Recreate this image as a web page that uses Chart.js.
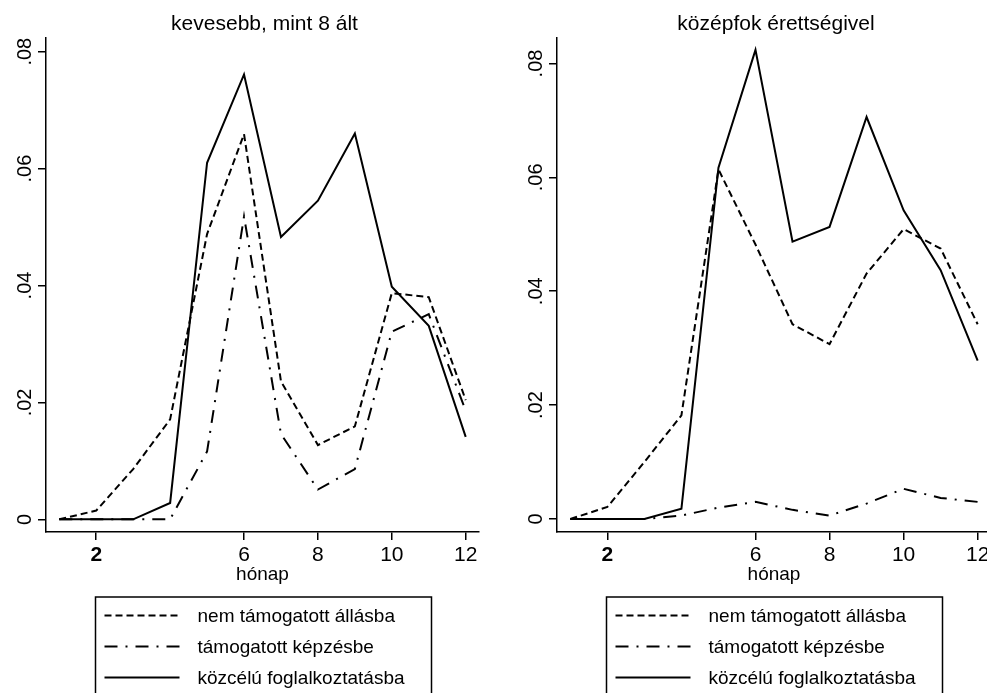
<!DOCTYPE html>
<html>
<head>
<meta charset="utf-8">
<script src="https://cdn.jsdelivr.net/npm/chart.js@4.4.0/dist/chart.umd.min.js"></script>
<style>
html, body { margin: 0; padding: 0; background: #fff; overflow: hidden; width: 987px; height: 693px; }
#left { position: absolute; left: 0; top: 0; }
#right { position: absolute; left: 490px; top: 0; }
</style>
</head>
<body>
<canvas id="left" width="490" height="693"></canvas>
<canvas id="right" width="510" height="693"></canvas>
<script>
const months = [1, 2, 3, 4, 5, 6, 7, 8, 9, 10, 11, 12];
const xTicks = [2, 6, 8, 10, 12];
const yTicks = [0, 0.02, 0.04, 0.06, 0.08];
const yTickLabels = ["0", ".02", ".04", ".06", ".08"];
const seriesNames = ["nem támogatott állásba", "támogatott képzésbe", "közcélú foglalkoztatásba"];
const panelTitles = ["kevesebb, mint 8 ált", "középfok érettségivel"];
const xTitle = "hónap";

// kevesebb, mint 8 ált
const leftAllas = [0, 0.0015, 0.0086, 0.0171, 0.0488, 0.0659, 0.0236, 0.0127, 0.0159, 0.0387, 0.0380, 0.0204];
const leftKepzes = [0, 0, 0, 0, 0.0116, 0.0518, 0.0146, 0.0051, 0.0086, 0.0321, 0.0351, 0.0186];
const leftKozcelu = [0, 0, 0, 0.0028, 0.0610, 0.0761, 0.0483, 0.0545, 0.0660, 0.0398, 0.0331, 0.0141];

// középfok érettségivel
const rightAllas = [0, 0.0021, 0.0100, 0.0182, 0.0614, 0.0482, 0.0342, 0.0307, 0.0431, 0.0509, 0.0475, 0.0342];
const rightKepzes = [0, 0, 0, 0.0006, 0.0020, 0.0030, 0.0016, 0.0006, 0.0027, 0.0053, 0.0037, 0.0030];
const rightKozcelu = [0, 0, 0, 0.0018, 0.0617, 0.0824, 0.0487, 0.0513, 0.0706, 0.0542, 0.0437, 0.0278];

const dashes = [[7, 4], [13, 8, 2, 8], []];
const FONT = '"Liberation Sans", Arial, sans-serif';
Chart.defaults.font.family = FONT;
Chart.defaults.color = "#000";

// title above the plot and the boxed legend under it
const stataBits = {
    id: "stataBits",
    afterDraw(chart, args, opts) {
        const ctx = chart.ctx;
        const area = chart.chartArea;
        const mid = (area.left + area.right) / 2;
        ctx.save();
        ctx.fillStyle = "#000";
        ctx.font = "21px " + FONT;
        ctx.textAlign = "center";
        ctx.textBaseline = "middle";
        ctx.fillText(opts.title, mid + 2, 24);

        const boxL = Math.round(mid - 168) + 0.5;
        ctx.strokeStyle = "#000";
        ctx.lineWidth = 1.5;
        ctx.strokeRect(boxL, 597, 336, 200);
        ctx.font = "19px " + FONT;
        ctx.textAlign = "left";
        chart.data.datasets.forEach((ds, i) => {
            const y = 615.5 + i * 31;
            ctx.lineWidth = 2;
            ctx.setLineDash(ds.borderDash);
            ctx.beginPath();
            ctx.moveTo(boxL + 9, y);
            ctx.lineTo(boxL + 84, y);
            ctx.stroke();
            ctx.setLineDash([]);
            ctx.fillText(ds.label, boxL + 102, y + 1);
        });
        ctx.restore();
    }
};

function makePanel(id, title, values, yMin, yMax, yWidth, padRight) {
    const datasets = values.map((vals, i) => ({
        label: seriesNames[i],
        data: months.map((m, k) => ({ x: m, y: vals[k] })),
        borderColor: "#000",
        borderWidth: 2,
        borderDash: dashes[i],
        pointRadius: 0,
        tension: 0,
        fill: false
    }));
    return new Chart(document.getElementById(id), {
        type: "line",
        data: { datasets: datasets },
        plugins: [stataBits],
        options: {
            responsive: false,
            animation: false,
            devicePixelRatio: 1,
            layout: { padding: { top: 38, left: 0, right: padRight, bottom: 101 } },
            plugins: {
                legend: { display: false },
                tooltip: { enabled: false },
                stataBits: { title: title }
            },
            scales: {
                x: {
                    type: "linear",
                    min: 0.64,
                    max: 12.36,
                    afterBuildTicks: s => { s.ticks = xTicks.map(v => ({ value: v })); },
                    afterFit: s => { s.height = 60; },
                    grid: { display: true, drawOnChartArea: false, drawTicks: true, tickLength: 8, color: "#000", lineWidth: 1.5 },
                    border: { display: true, color: "#000", width: 1.5 },
                    ticks: {
                        padding: 3,
                        maxRotation: 0,
                        autoSkip: false,
                        color: "#000",
                        font: c => ({ size: 21, family: FONT, weight: c.tick && c.tick.value === 2 ? "bold" : "normal" }),
                        callback: v => String(v)
                    },
                    title: { display: true, text: xTitle, color: "#000", font: { size: 19, family: FONT }, padding: { top: 0, bottom: 6 } }
                },
                y: {
                    min: yMin,
                    max: yMax,
                    afterBuildTicks: s => { s.ticks = yTicks.map(v => ({ value: v })); },
                    afterFit: s => { s.width = yWidth; },
                    grid: { display: true, drawOnChartArea: false, drawTicks: true, tickLength: 8, color: "#000", lineWidth: 1.5 },
                    border: { display: true, color: "#000", width: 1.5 },
                    ticks: {
                        padding: -1,
                        minRotation: 90,
                        maxRotation: 90,
                        crossAlign: "center",
                        autoSkip: false,
                        color: "#000",
                        font: { size: 20, family: FONT },
                        callback: (v, i) => yTickLabels[i]
                    }
                }
            }
        }
    });
}

makePanel("left", panelTitles[0], [leftAllas, leftKepzes, leftKozcelu], -0.00217, 0.08234, 46, 11);
makePanel("right", panelTitles[1], [rightAllas, rightKepzes, rightKozcelu], -0.00229, 0.08448, 67, 9);
</script>
</body>
</html>
